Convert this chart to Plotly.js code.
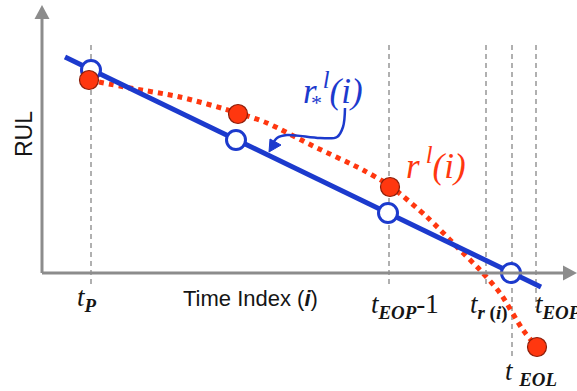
<!DOCTYPE html>
<html><head><meta charset="utf-8">
<script src="https://cdn.plot.ly/plotly-3.0.1.min.js"></script>
<style>html,body{margin:0;padding:0;background:#fff}#c{width:577px;height:391px}</style>
</head><body><div id="c"></div>
<script>
// Time index (x) and RUL (y) values, conceptual units
const linearX = [2.3, 49.9];
const linearY = [21.6, -1.4];
const linearPtsX = [4.9, 19.4, 34.6, 46.9];
const linearPtsY = [20.3, 13.3, 6.0, 0.0];
const curveX = [4.7, 8.8, 13.8, 19.6, 22.5, 27.1, 32.1, 34.8, 38.5, 41.5, 43.8, 45.8, 48.1, 49.5];
const curveY = [19.3, 18.5, 17.6, 16.0, 15.0, 12.7, 10.3, 8.7, 5.6, 2.6, 0.3, -2.0, -5.7, -7.4];
const curvePtsX = [4.7, 19.6, 34.8, 49.5];
const curvePtsY = [19.3, 15.9, 8.6, -7.4];
const guideX = [4.9, 34.7, 44.4, 47.0, 49.4];
const guideBottom = [-1.2, -1.2, -1.2, -8.7, -3.5];
const guideTop = 22.8;
const calloutX = [30.3, 30.1, 29.5, 27.8, 24.5, 23.5, 22.9];
const calloutY = [16.5, 14.6, 13.6, 13.5, 13.8, 13.5, 12.6];
const tickLabels = ['<i>t</i><sub><b><i>P</i></b></sub>', '<i>t</i><sub><b><i>EOP</i></b></sub>-1', '<i>t</i><sub><b><i>r</i></b> <b>(<i>i</i>)</b></sub>', '<i>t</i><sub><b><i>EOP</i></b></sub>', '<i>t</i> <sub><b><i>EOL</i></b></sub>'];

const BLUE = 'rgb(28,58,205)';
const RED = 'rgb(255,55,15)';
const GRAY = 'rgb(140,140,140)';
const SERIF = 'Liberation Serif, Times New Roman, serif';
const SANS = 'Liberation Sans, Arial, sans-serif';

const traces = [
  {x: curveX, y: curveY, mode: 'lines', line: {color: RED, width: 5, dash: 'dot', shape: 'spline', smoothing: 0.8}, hoverinfo: 'skip'},
  {x: linearX, y: linearY, mode: 'lines', line: {color: BLUE, width: 5}, hoverinfo: 'skip'},
  {x: calloutX, y: calloutY, mode: 'lines', line: {color: BLUE, width: 2.5, shape: 'spline', smoothing: 1}, hoverinfo: 'skip'},
  {x: linearPtsX, y: linearPtsY, mode: 'markers', marker: {size: 19, color: '#fff', line: {color: BLUE, width: 3}}, hoverinfo: 'skip'},
  {x: curvePtsX, y: curvePtsY, mode: 'markers', marker: {size: 19, color: RED, line: {color: 'rgb(140,30,10)', width: 1.2}}, hoverinfo: 'skip'}
];

const shapes = [];
guideX.forEach((gx, k) => shapes.push({type: 'line', xref: 'x', yref: 'y', x0: gx, x1: gx, y0: guideTop, y1: guideBottom[k], line: {color: 'rgb(150,150,150)', width: 1.5, dash: '5px,4px'}, layer: 'below'}));
// axes with arrowheads
shapes.push({type: 'line', xref: 'x', yref: 'y', x0: 0, x1: 0, y0: 0, y1: 25.6, line: {color: GRAY, width: 3}});
shapes.push({type: 'line', xref: 'x', yref: 'y', x0: 0, x1: 52.3, y0: 0, y1: 0, line: {color: GRAY, width: 3}});
shapes.push({type: 'path', xref: 'x', yref: 'y', path: 'M -0.75,25.4 L 0,26.8 L 0.75,25.4 Z', fillcolor: GRAY, line: {width: 0}});
shapes.push({type: 'path', xref: 'x', yref: 'y', path: 'M 52.1,0.75 L 53.5,0 L 52.1,-0.75 Z', fillcolor: GRAY, line: {width: 0}});
// callout arrowhead
shapes.push({type: 'path', xref: 'x', yref: 'y', path: 'M 22.7,12.1 L 23.9,12.8 L 22.8,13.4 Z', fillcolor: BLUE, line: {color: BLUE, width: 1}});

const ann = (x, y, text, size, color, family, extra) => Object.assign({x, y, xref: 'x', yref: 'y', text, showarrow: false, font: {size, color, family}}, extra || {});
const annotations = [
  ann(-1.8, 13.9, 'RUL', 23, '#151515', SANS, {textangle: -90}),
  ann(20.8, -2.5, 'Time Index (<b><i>i</i></b>)', 22, '#151515', SANS),
  ann(4.5, -2.6, tickLabels[0], 27, '#151515', SERIF),
  ann(36.3, -3.3, tickLabels[1], 27, '#151515', SERIF),
  ann(44.6, -3.3, tickLabels[2], 27, '#151515', SERIF),
  ann(49.1, -3.3, tickLabels[3], 27, '#151515', SERIF, {xanchor: 'left'}),
  ann(48.9, -10.0, tickLabels[4], 27, '#151515', SERIF),
  ann(29.1, 18.5, '<i>r</i><sup><i> l</i></sup><i>(i)</i>', 35, BLUE, SERIF),
  ann(27.4, 17.1, '*', 22, BLUE, SERIF),
  ann(39.4, 11.0, '<i>r</i><sup><i> l</i></sup><i>(i)</i>', 35, RED, SERIF)
];

const layout = {
  width: 577, height: 391, margin: {l: 0, r: 0, t: 0, b: 0},
  paper_bgcolor: '#fff', plot_bgcolor: '#fff', showlegend: false,
  xaxis: {range: [-4.2, 53.5], visible: false, fixedrange: true},
  yaxis: {range: [-11.8, 27.3], visible: false, fixedrange: true},
  shapes, annotations
};
Plotly.newPlot('c', traces, layout, {displayModeBar: false, staticPlot: true});
</script></body></html>
